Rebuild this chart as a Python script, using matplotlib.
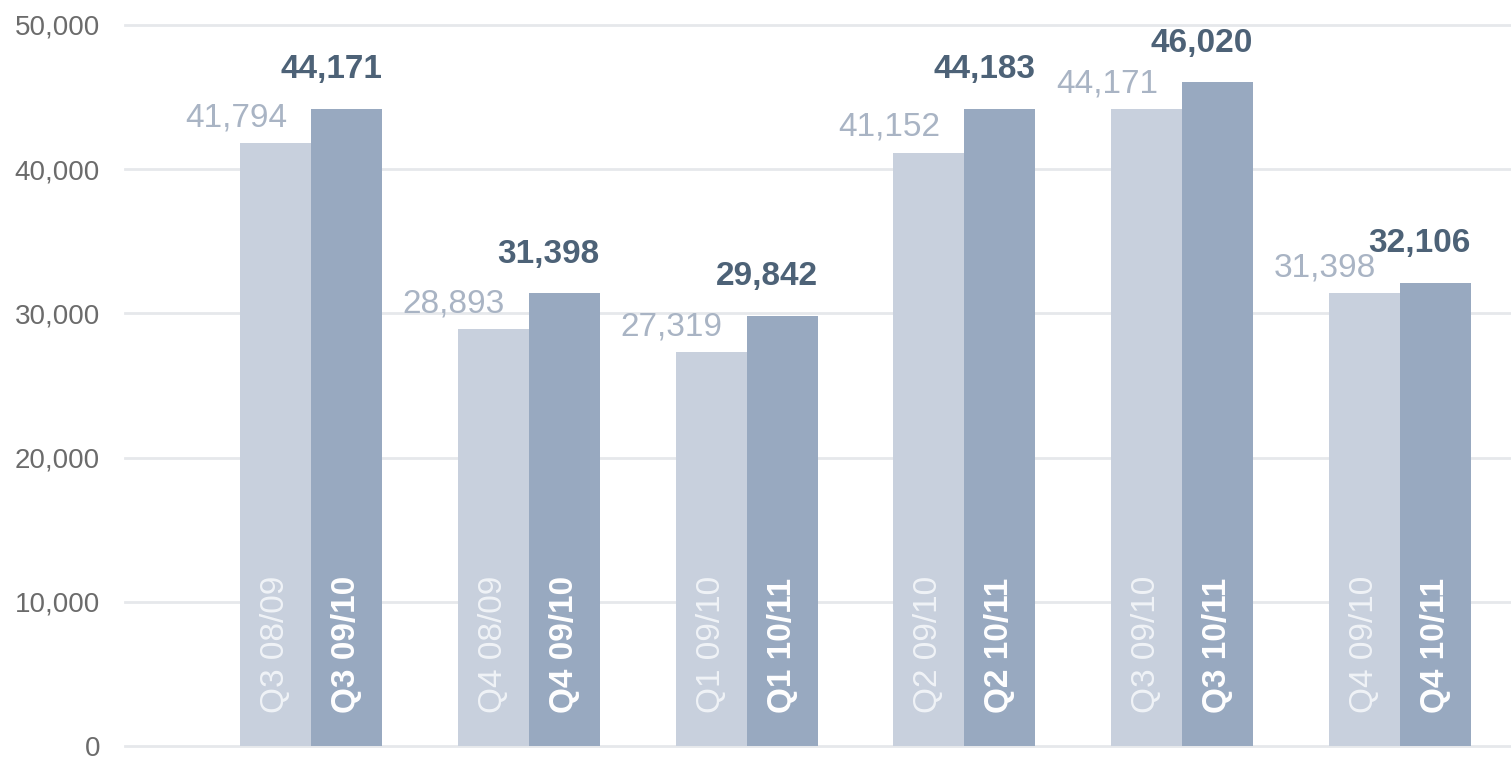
import numpy as np
import matplotlib.pyplot as plt

plt.rcParams['font.family'] = ['Liberation Sans', 'DejaVu Sans']

# quarterly figures: previous year vs current year
prev_labels = ['Q3 08/09', 'Q4 08/09', 'Q1 09/10', 'Q2 09/10', 'Q3 09/10', 'Q4 09/10']
curr_labels = ['Q3 09/10', 'Q4 09/10', 'Q1 10/11', 'Q2 10/11', 'Q3 10/11', 'Q4 10/11']
prev_values = [41794, 28893, 27319, 41152, 44171, 31398]
curr_values = [44171, 31398, 29842, 44183, 46020, 32106]
yticks = [0, 10000, 20000, 30000, 40000, 50000]

light = '#c8d0dd'
dark = '#98a9c0'
light_txt = '#a9b4c4'
dark_txt = '#4d6277'

fig = plt.figure(figsize=(15.11, 7.6), dpi=100)
ax = fig.add_axes([125 / 1511, 14 / 760, 1386 / 1511, 721 / 760])

x = np.arange(len(prev_values))
w = 0.326

ax.bar(x - w / 2, prev_values, w, color=light, zorder=2)
ax.bar(x + w / 2, curr_values, w, color=dark, zorder=2)

for i in range(len(x)):
    # value labels above the bars
    ax.annotate(f'{prev_values[i]:,}', (x[i] - 0.11, prev_values[i]),
                xytext=(0, 7), textcoords='offset points',
                ha='right', va='bottom', fontsize=24, color=light_txt, zorder=3)
    ax.annotate(f'{curr_values[i]:,}', (x[i] + w, curr_values[i]),
                xytext=(0, 17), textcoords='offset points',
                ha='right', va='bottom', fontsize=24, fontweight='bold',
                color=dark_txt, zorder=3)
    # period names inside the bars
    ax.text(x[i] - w / 2, 2300, prev_labels[i], rotation=90, ha='center',
            va='bottom', fontsize=24, color='#f0f3f7', zorder=3)
    ax.text(x[i] + w / 2, 2300, curr_labels[i], rotation=90, ha='center',
            va='bottom', fontsize=24, fontweight='bold', color='white', zorder=3)

ax.set_xlim(-0.854, 5.51)
ax.set_ylim(0, 50000)
ax.set_yticks(yticks)
ax.set_yticklabels([f'{v:,}' for v in yticks])
ax.set_xticks([])
ax.tick_params(axis='y', length=0, pad=18, labelsize=20, labelcolor='#6b6b6b')
ax.grid(axis='y', color='#e6e8eb', linewidth=2, zorder=0)
ax.set_axisbelow(True)
for s in ax.spines.values():
    s.set_visible(False)
for gl in ax.get_ygridlines():
    gl.set_clip_on(False)

fig.savefig('out.png', dpi=100)
